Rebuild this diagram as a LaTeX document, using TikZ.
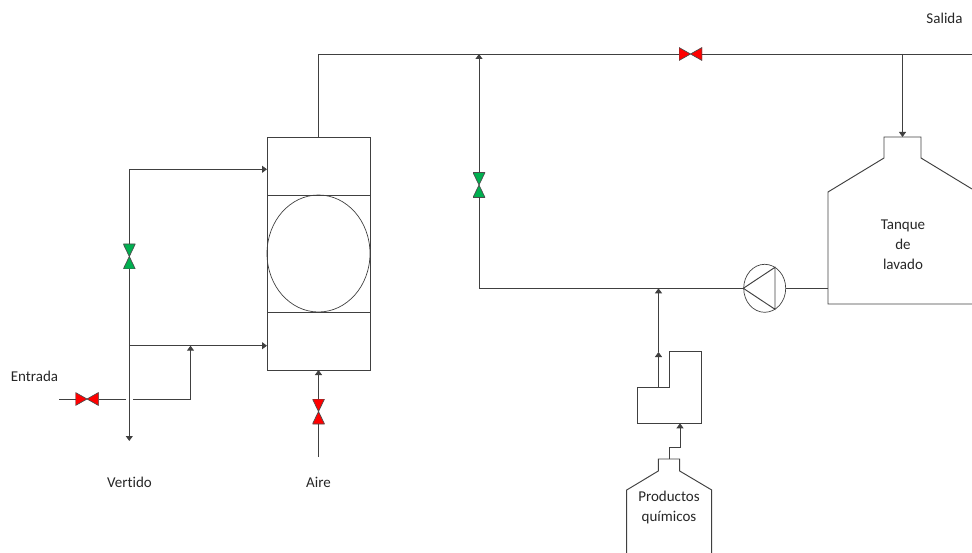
\documentclass[tikz,border=0pt]{standalone}
\usepackage{fontspec}
\setmainfont{Carlito}[Ligatures=NoCommon]
\usetikzlibrary{arrows.meta,shapes.geometric}

\begin{document}
\begin{tikzpicture}[
  x=1pt, y=-1pt,
  every node/.style={font=\fontsize{15}{20}\selectfont, text=black!85},
  pipe/.style={draw=black!75, line width=0.95pt},
  arr/.style={pipe, -{Triangle[width=7pt,length=5pt]}},
  sect/.style={draw=black!75, line width=0.95pt, minimum width=103pt, inner sep=0pt, outer sep=0pt},
  lbl/.style={align=center, inner sep=0pt},
  valveh/.style={minimum width=23pt, minimum height=13pt, inner sep=0pt, outer sep=0pt,
    path picture={\draw[draw=black!70, line width=0.7pt, fill=#1]
      (path picture bounding box.north west) -- (path picture bounding box.south east) --
      (path picture bounding box.north east) -- (path picture bounding box.south west) -- cycle;}},
  valvev/.style={minimum width=12pt, minimum height=25pt, inner sep=0pt, outer sep=0pt,
    path picture={\draw[draw=black!70, line width=0.7pt, fill=#1]
      (path picture bounding box.north west) -- (path picture bounding box.south east) --
      (path picture bounding box.south west) -- (path picture bounding box.north east) -- cycle;}}
]
  \definecolor{vred}{HTML}{FF0000}
  \definecolor{vgreen}{HTML}{00B050}
  \useasboundingbox (0,0) rectangle (972,553);

  % Column
  \node[sect, minimum height=58pt]  (coltop) at (318.5,166) {};
  \node[sect, minimum height=117pt] (colmid) at (318.5,253.5) {};
  \node[sect, minimum height=58pt]  (colbot) at (318.5,341) {};
  \node[draw=black!75, line width=0.7pt, ellipse, minimum width=103pt, minimum height=117pt,
        inner sep=0pt, outer sep=0pt] (colball) at (318.5,253.5) {};

  % Valves
  \node[valveh=vred]   (ventrada) at (87,399) {};
  \node[valveh=vred]   (vsalida)  at (690.5,54) {};
  \node[valvev=vred]   (vaire)    at (318.5,411.5) {};
  \node[valvev=vgreen] (vback)    at (129.3,256.5) {};
  \node[valvev=vgreen] (vrec)     at (479,185) {};

  % Pump
  \node[draw=black!75, line width=0.7pt, ellipse, minimum width=42pt, minimum height=48pt,
        inner sep=0pt, outer sep=0pt] (pump) at (764.7,288.3) {};
  \coordinate (pumptip) at (743.3,288.3);
  \draw[pipe] (pumptip) -- (775,267.3) -- (775,309.3) -- cycle;

  % Tanks
  \coordinate (tanktop) at (902.5,137);
  \coordinate (tankin)  at (828,288.3);
  \draw[pipe] (972,189) -- (921,158) -- (921,137) -- (884,137) -- (884,158) -- (828,192)
    -- (828,304) -- (972,304);
  \coordinate (mixtop) at (658.5,387);
  \coordinate (mixbot) at (680,423.3);
  \coordinate (mixmid) at (658.5,352);
  \draw[pipe] (637.3,387) -- (669.3,387) -- (669.3,351.7) -- (701.3,351.7) -- (701.3,423.3)
    -- (637.3,423.3) -- cycle;
  \coordinate (bottop) at (669.3,459);
  \coordinate (botbend) at (680,447.3);
  \draw[pipe] (626.7,553) -- (626.7,490) -- (658.3,471) -- (658.3,459) -- (679.7,459)
    -- (679.7,471) -- (711.7,490) -- (711.7,553);

  % Labels
  \node[lbl] (entrada) at (34.5,376)   {Entrada};
  \node[lbl] (vertido) at (129.5,482.5) {Vertido};
  \node[lbl] (aire)    at (318.5,482.5) {Aire};
  \node[lbl] (salida)  at (944.5,18)   {Salida};
  \node[lbl] (lavado)  at (903,245)    {Tanque\\de\\lavado};
  \node[lbl] (quimicos) at (669,507.5) {Productos\\químicos};

  % Free ends
  \coordinate (inent)  at (59,399);
  \coordinate (gapl)   at (126,399);
  \coordinate (gapr)   at (133,399);
  \coordinate (teeent) at (190.5,345.7);
  \coordinate (inbot)  at (267,345.7);
  \coordinate (intop)  at (267,169.3);
  \coordinate (teebot) at (129.3,345.7);
  \coordinate (dump)   at (129.3,441);
  \coordinate (inaire) at (318.5,457);
  \coordinate (teemain) at (902.5,54);
  \coordinate (outmain) at (972,54);
  \coordinate (teerec) at (479,54);
  \coordinate (teechem) at (658.5,288.3);
  \coordinate (recstart) at (479,288.3);

  % Paths
  \draw[pipe] (inent) -- (ventrada);
  \draw[pipe] (ventrada) -- (gapl);
  \draw[arr] (gapr) -| (teeent);
  \draw[arr] (vback) |- (intop);
  \draw[pipe] (vback) -- (teebot);
  \draw[arr] (teebot) -- (dump);
  \draw[arr] (teebot) -- (inbot);
  \draw[pipe] (inaire) -- (vaire);
  \draw[arr] (vaire) -- (colbot.south);
  \draw[pipe] (coltop.north) |- (vsalida);
  \draw[pipe] (vsalida) -- (outmain);
  \draw[arr] (teemain) -- (tanktop);
  \draw[arr] (vrec) -- (teerec);
  \draw[pipe] (pumptip) -- (recstart) -- (vrec);
  \draw[pipe] (pump) -- (tankin);
  \draw[arr] (mixtop) -- (mixmid);
  \draw[arr] (mixmid) -- (teechem);
  \draw[arr] (bottop) |- (botbend) -- (mixbot);
\end{tikzpicture}
\end{document}
